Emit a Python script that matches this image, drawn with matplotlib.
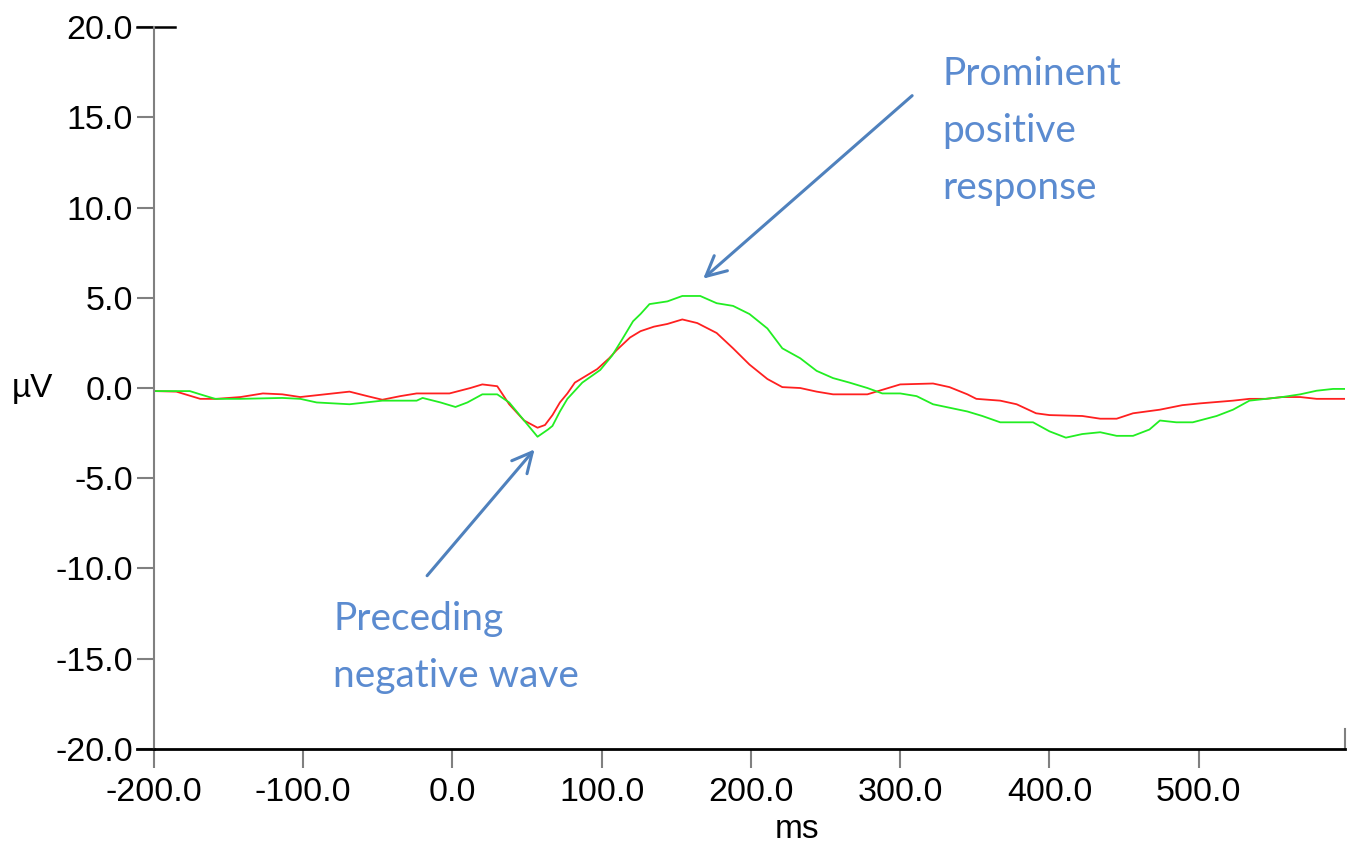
import numpy as np
import matplotlib.pyplot as plt
import matplotlib.transforms as mtransforms

# averaged waveforms, two conditions (time in ms, amplitude in microvolts)
t_red = [-200, -185, -169, -158, -142, -127, -114, -102, -91, -69, -57, -47, -35, -24,
         -2, 12, 20, 30, 38, 48, 57, 62, 67, 72, 77, 82, 90, 97, 105, 110, 119, 126,
         135, 144, 154, 164, 177, 188, 199, 211, 221, 233, 244, 255, 278, 288, 300,
         322, 333, 345, 351, 367, 378, 391, 400, 422, 434, 445, 456, 474, 489, 501,
         523, 534, 545, 556, 568, 579, 598]
v_red = [-0.17, -0.2, -0.6, -0.6, -0.5, -0.3, -0.35, -0.5, -0.4, -0.2, -0.45, -0.65, -0.45, -0.3,
         -0.3, 0.0, 0.2, 0.1, -0.9, -1.8, -2.2, -2.05, -1.5, -0.8, -0.3, 0.3, 0.7, 1.05, 1.65, 2.1, 2.8, 3.15,
         3.4, 3.55, 3.8, 3.6, 3.05, 2.2, 1.3, 0.5, 0.05, 0.0, -0.2, -0.35, -0.35, -0.1, 0.2,
         0.25, 0.05, -0.35, -0.6, -0.7, -0.9, -1.4, -1.5, -1.55, -1.7, -1.7, -1.4, -1.2, -0.95, -0.85,
         -0.7, -0.6, -0.6, -0.5, -0.5, -0.6, -0.6]

t_green = [-200, -176, -169, -159, -142, -114, -102, -91, -69, -47, -24, -20, -8, 2, 10,
           20, 30, 38, 48, 57, 64, 67, 72, 77, 87, 99, 107, 113, 121, 126, 132, 144, 154,
           166, 177, 188, 199, 211, 221, 233, 244, 255, 266, 278, 288, 300, 311, 322, 345,
           355, 367, 389, 400, 411, 422, 434, 445, 456, 467, 474, 485, 496, 512, 523, 534,
           545, 556, 568, 579, 590, 598]
v_green = [-0.17, -0.17, -0.35, -0.6, -0.6, -0.55, -0.6, -0.8, -0.9, -0.7, -0.7, -0.55, -0.8, -1.05, -0.8,
           -0.35, -0.35, -0.8, -1.8, -2.7, -2.3, -2.1, -1.3, -0.6, 0.3, 1.0, 1.8, 2.6, 3.7, 4.1, 4.65, 4.8, 5.1,
           5.1, 4.7, 4.55, 4.1, 3.3, 2.2, 1.65, 0.95, 0.55, 0.3, 0.0, -0.3, -0.3, -0.45, -0.9, -1.3,
           -1.55, -1.9, -1.9, -2.4, -2.75, -2.55, -2.45, -2.65, -2.65, -2.3, -1.8, -1.9, -1.9, -1.55, -1.2, -0.7,
           -0.6, -0.5, -0.35, -0.15, -0.05, -0.05]

x_ticks = [-200, -100, 0, 100, 200, 300, 400, 500]
y_ticks = [-20, -15, -10, -5, 0, 5, 10, 15, 20]

note_color = '#4f81bd'
text_color = '#5b8bd0'

fig = plt.figure(figsize=(13.47, 8.46), dpi=100)
ax = fig.add_axes([0.1143, 0.1147, 0.8842, 0.8533])

ax.plot(t_red, v_red, color='#ff2020', lw=1.3)
ax.plot(t_green, v_green, color='#22ee22', lw=1.3)

ax.set_xlim(-200, 598)
ax.set_ylim(-20, 20)
ax.set_xticks(x_ticks)
ax.set_xticklabels(['%.1f' % v for v in x_ticks])
ax.set_yticks(y_ticks)
ax.set_yticklabels(['%.1f' % v for v in y_ticks])

for lab in ax.get_xticklabels() + ax.get_yticklabels():
    lab.set_family('Liberation Sans')
ax.tick_params(axis='y', direction='out', length=12, width=1.5, color='#808080',
               labelsize=24.5, pad=3)
ax.tick_params(axis='x', direction='out', length=13.5, width=1.5, color='#808080',
               labelsize=24.5, pad=7)

for s in ['top', 'right']:
    ax.spines[s].set_visible(False)
ax.spines['left'].set_color('#808080')
ax.spines['left'].set_linewidth(1.5)
ax.spines['bottom'].set_color('black')
ax.spines['bottom'].set_linewidth(2)

# black bar across the top tick and the left stub of the baseline
blend = mtransforms.blended_transform_factory(ax.transAxes, ax.transData)
ax.plot([-0.0143, 0.0176], [20, 20], color='black', lw=1.8, transform=blend, clip_on=False)
ax.plot([-0.0143, 0.0], [-20, -20], color='black', lw=2, transform=blend, clip_on=False)
ax.plot([1, 1], [0, 0.028], color='#808080', lw=1.5, transform=ax.transAxes, clip_on=False)

ax.text(-0.119, 0.5, 'µV', transform=ax.transAxes, ha='left', va='center',
        fontsize=24, family='Liberation Sans')
ax.text(0.54, -0.112, 'ms', transform=ax.transAxes, ha='center', va='center',
        fontsize=24, family='Liberation Sans')

arrow = dict(arrowstyle='->', color=note_color, lw=2.2, mutation_scale=36,
             shrinkA=0, shrinkB=0)
ax.annotate('', xy=(168, 6.06), xytext=(308, 16.2), arrowprops=arrow)
ax.annotate('', xy=(55, -3.4), xytext=(-17, -10.4), arrowprops=arrow)

ax.text(328, 18.4, 'Prominent\npositive\nresponse', ha='left', va='top',
        fontsize=28, family='Lato', color=text_color, linespacing=1.72)
ax.text(-80, -11.8, 'Preceding\nnegative wave', ha='left', va='top',
        fontsize=28, family='Lato', color=text_color, linespacing=1.72)

fig.savefig('out.png', dpi=100)
